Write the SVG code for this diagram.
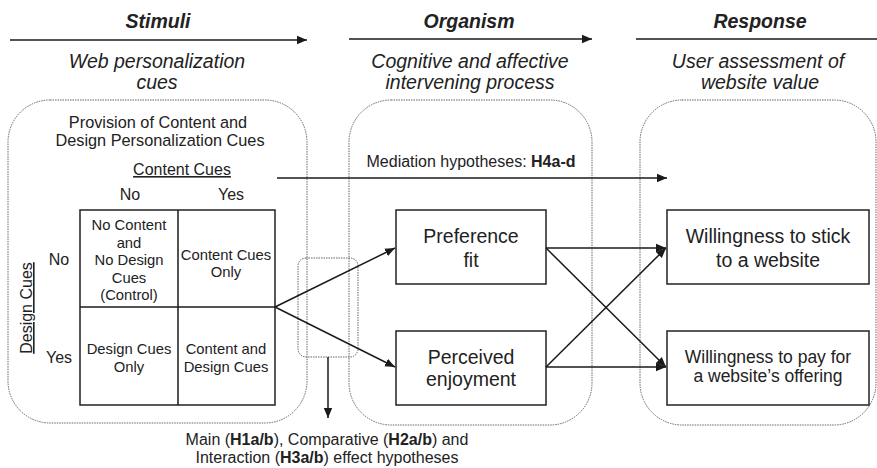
<svg xmlns="http://www.w3.org/2000/svg" width="877" height="468" viewBox="0 0 877 468">
<defs>
<marker id="ah" viewBox="0 0 10 10" refX="10" refY="5" markerWidth="10" markerHeight="10" markerUnits="userSpaceOnUse" orient="auto">
<path d="M0,0.8 L10,5 L0,9.2 Z" fill="#1a1a1a"/>
</marker>
<style>
text{font-family:"Liberation Sans",Arial,sans-serif;fill:#222;text-anchor:middle}
.h{font-size:19.5px;font-weight:bold;font-style:italic}
.s{font-size:19.5px;font-style:italic}
.t{font-size:14.8px}
.p{font-size:16.3px}
.m{font-size:16px}
.b{font-size:19.5px}
.zone{fill:none;stroke:#666;stroke-width:1;stroke-dasharray:1.5 1}
.box{fill:#fff;stroke:#222;stroke-width:1.5}
.ln{fill:none;stroke:#1a1a1a;stroke-width:1.5}
.arr{fill:none;stroke:#1a1a1a;stroke-width:1.5;marker-end:url(#ah)}
</style>
</defs>
<rect width="877" height="468" fill="#fff"/>

<g id="header-stimuli">
<text class="h" x="158" y="28">Stimuli</text>
<line class="arr" x1="10" y1="40" x2="307" y2="40"/>
<text class="s" x="157" y="68">Web personalization</text>
<text class="s" x="157" y="89">cues</text>
</g>
<g id="header-organism">
<text class="h" x="469" y="28">Organism</text>
<line class="arr" x1="349" y1="39" x2="592" y2="39"/>
<text class="s" x="470" y="68">Cognitive and affective</text>
<text class="s" x="470" y="89">intervening process</text>
</g>
<g id="header-response">
<text class="h" x="760" y="28">Response</text>
<line class="ln" x1="636" y1="39" x2="877" y2="39"/>
<text class="s" x="758" y="68">User assessment of</text>
<text class="s" x="760" y="89">website value</text>
</g>

<g id="zone-stimuli">
<rect class="zone" x="8" y="100" width="299" height="323" rx="42" ry="42"/>
</g>
<g id="zone-organism">
<rect class="zone" x="349" y="100" width="243" height="325" rx="42" ry="42"/>
</g>
<g id="zone-response">
<rect class="zone" x="640" y="100" width="236" height="325" rx="42" ry="42"/>
</g>

<g id="stimuli-grid">
<text class="p" x="158" y="128">Provision of Content and</text>
<text class="p" x="160" y="146">Design Personalization Cues</text>
<text class="m" x="182" y="175" text-decoration="underline">Content Cues</text>
<text class="m" x="130" y="200">No</text>
<text class="m" x="231" y="200">Yes</text>
<text class="m" x="59" y="265">No</text>
<text class="m" x="59" y="363">Yes</text>
<text class="m" transform="translate(32,308) rotate(-90)" x="0" y="0" text-decoration="underline">Design Cues</text>
<rect class="box" x="80" y="210" width="195" height="195" fill="none"/>
<line class="ln" x1="178" y1="210" x2="178" y2="405"/>
<line class="ln" x1="80" y1="307" x2="275" y2="307"/>
<text class="t" x="129" y="230">No Content</text>
<text class="t" x="129" y="247.5">and</text>
<text class="t" x="129" y="265">No Design</text>
<text class="t" x="129" y="282.5">Cues</text>
<text class="t" x="129" y="300">(Control)</text>
<text class="t" x="226" y="260">Content Cues</text>
<text class="t" x="226" y="277">Only</text>
<text class="t" x="129" y="354">Design Cues</text>
<text class="t" x="129" y="372">Only</text>
<text class="t" x="226" y="354">Content and</text>
<text class="t" x="226" y="372">Design Cues</text>
</g>

<g id="preference-fit">
<rect class="box" x="396" y="210" width="150" height="74"/>
<text class="b" x="471" y="243">Preference</text>
<text class="b" x="471" y="267">fit</text>
</g>
<g id="perceived-enjoyment">
<rect class="box" x="396" y="331" width="150" height="74"/>
<text class="b" x="471" y="364">Perceived</text>
<text class="b" x="471" y="386">enjoyment</text>
</g>
<g id="willingness-stick">
<rect class="box" x="667" y="210" width="202" height="74"/>
<text class="b" x="768" y="243">Willingness to stick</text>
<text class="b" x="768" y="267">to a website</text>
</g>
<g id="willingness-pay">
<rect class="box" x="667" y="331" width="202" height="74"/>
<text class="t" x="768" y="363" style="font-size:17.5px">Willingness to pay for</text>
<text class="t" x="768" y="382" style="font-size:17.5px">a website’s offering</text>
</g>

<g id="effect-hypotheses">
<rect class="zone" x="298" y="258" width="60" height="99" rx="8" ry="8"/>
<text class="m" x="327" y="445">Main (<tspan font-weight="bold">H1a/b</tspan>), Comparative (<tspan font-weight="bold">H2a/b</tspan>) and</text>
<text class="m" x="327" y="463">Interaction (<tspan font-weight="bold">H3a/b</tspan>) effect hypotheses</text>
</g>

<g id="connectors">
<line class="arr" x1="277" y1="178" x2="667" y2="178"/>
<text class="m" x="471" y="167">Mediation hypotheses: <tspan font-weight="bold">H4a-d</tspan></text>
<line class="arr" x1="328" y1="357" x2="328" y2="418"/>
<line class="arr" x1="275" y1="307" x2="395" y2="248"/>
<line class="arr" x1="275" y1="307" x2="395" y2="367"/>
<line class="arr" x1="546" y1="248" x2="666" y2="248"/>
<line class="arr" x1="546" y1="248" x2="666" y2="367"/>
<line class="arr" x1="546" y1="367" x2="666" y2="367"/>
<line class="arr" x1="546" y1="367" x2="666" y2="248"/>
</g>
</svg>
